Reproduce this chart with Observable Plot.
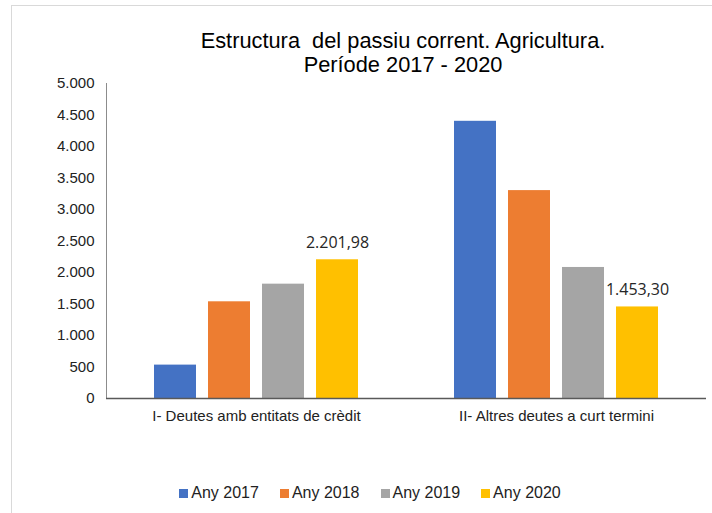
<!DOCTYPE html>
<html>
<head>
<meta charset="utf-8">
<script src="https://cdn.jsdelivr.net/npm/d3@7"></script>
<script src="https://cdn.jsdelivr.net/npm/@observablehq/plot@0.6"></script>
<style>
  body { margin: 0; background: #fff; }
  #chart { position: relative; width: 712px; height: 513px; overflow: hidden; font-family: "Liberation Sans", Arial, sans-serif; background: #fff; }
  #border { position: absolute; left: 11px; top: 5px; width: 760px; height: 600px; border: 1px solid #d9d9d9; box-sizing: border-box; }
  #title { position: absolute; left: 0; top: 29px; width: 712px; padding-left: 94px; box-sizing: border-box; text-align: center; font-size: 21.8px; line-height: 24px; color: #000; white-space: pre; }
  #plot { position: absolute; left: 0; top: 70px; }
  #legend { position: absolute; left: 0; top: 483px; width: 712px; padding-left: 28px; box-sizing: border-box; display: flex; justify-content: center; gap: 21px; font-size: 16px; line-height: 20px; color: #222; }
  .item { display: flex; align-items: center; }
  .sw { width: 9px; height: 9px; margin-right: 3px; }
</style>
</head>
<body>
<div id="chart">
  <div id="border"></div>
  <div id="title"></div>
  <div id="plot"></div>
  <div id="legend"></div>
</div>
<script>
const titleLines = ["Estructura  del passiu corrent. Agricultura.", "Període 2017 - 2020"];
const categories = ["I- Deutes amb entitats de crèdit", "II- Altres deutes a curt termini"];
const years = ["Any 2017", "Any 2018", "Any 2019", "Any 2020"];
const values2017 = [530, 4400];
const values2018 = [1535, 3300];
const values2019 = [1815, 2080];
const values2020 = [2201.98, 1453.30];
const yTicks = [0, 500, 1000, 1500, 2000, 2500, 3000, 3500, 4000, 4500, 5000];
const colors = ["#4472C4", "#ED7D31", "#A5A5A5", "#FFC000"];
const labelledYear = "Any 2020";

const series = [values2017, values2018, values2019, values2020];
const table = [];
categories.forEach((c, i) => years.forEach((y, j) => table.push({category: c, year: y, value: series[j][i]})));

const loc = d3.formatLocale({decimal: ",", thousands: ".", grouping: [3], currency: ["", ""]});
const fmtInt = loc.format(",.0f");
const fmt2 = loc.format(",.2f");

document.getElementById("title").textContent = titleLines.join("\n");

const plot = Plot.plot({
  width: 712,
  height: 370,
  marginLeft: 106,
  marginRight: 6,
  marginTop: 13,
  marginBottom: 42,
  style: {fontFamily: "'Liberation Sans', Arial, sans-serif", fontSize: "15px", color: "#222", background: "transparent", overflow: "visible"},
  fx: {domain: categories, padding: 0, label: null},
  x: {domain: years, paddingInner: 0.214, paddingOuter: 0.849, axis: null},
  y: {domain: [0, 5000], label: null},
  color: {domain: years, range: colors},
  marks: [
    Plot.barY(table, {fx: "category", x: "year", y: "value", fill: "year"}),
    Plot.frame({anchor: "left", facetAnchor: "left", stroke: "#8c8c8c", strokeWidth: 1}),
    Plot.ruleY([0], {stroke: "#595959", strokeWidth: 1.6}),
    Plot.axisY({ticks: yTicks, tickSize: 0, tickPadding: 12, tickFormat: fmtInt, label: null, fontSize: 15}),
    Plot.axisFx({anchor: "bottom", tickSize: 0, tickPadding: 12, label: null, fontSize: 15}),
    Plot.text(table.filter(d => d.year === labelledYear), {
      fx: "category", x: "year", y: "value", text: d => fmt2(d.value),
      lineAnchor: "bottom", dy: -12, fontFamily: "'Open Sans', sans-serif", fontSize: 16, fill: "#262626"
    })
  ]
});
document.getElementById("plot").appendChild(plot);

const legend = document.getElementById("legend");
years.forEach((y, i) => {
  const it = document.createElement("div");
  it.className = "item";
  const sw = document.createElement("span");
  sw.className = "sw";
  sw.style.background = colors[i];
  const t = document.createElement("span");
  t.textContent = y;
  it.appendChild(sw);
  it.appendChild(t);
  legend.appendChild(it);
});
</script>
</body>
</html>
